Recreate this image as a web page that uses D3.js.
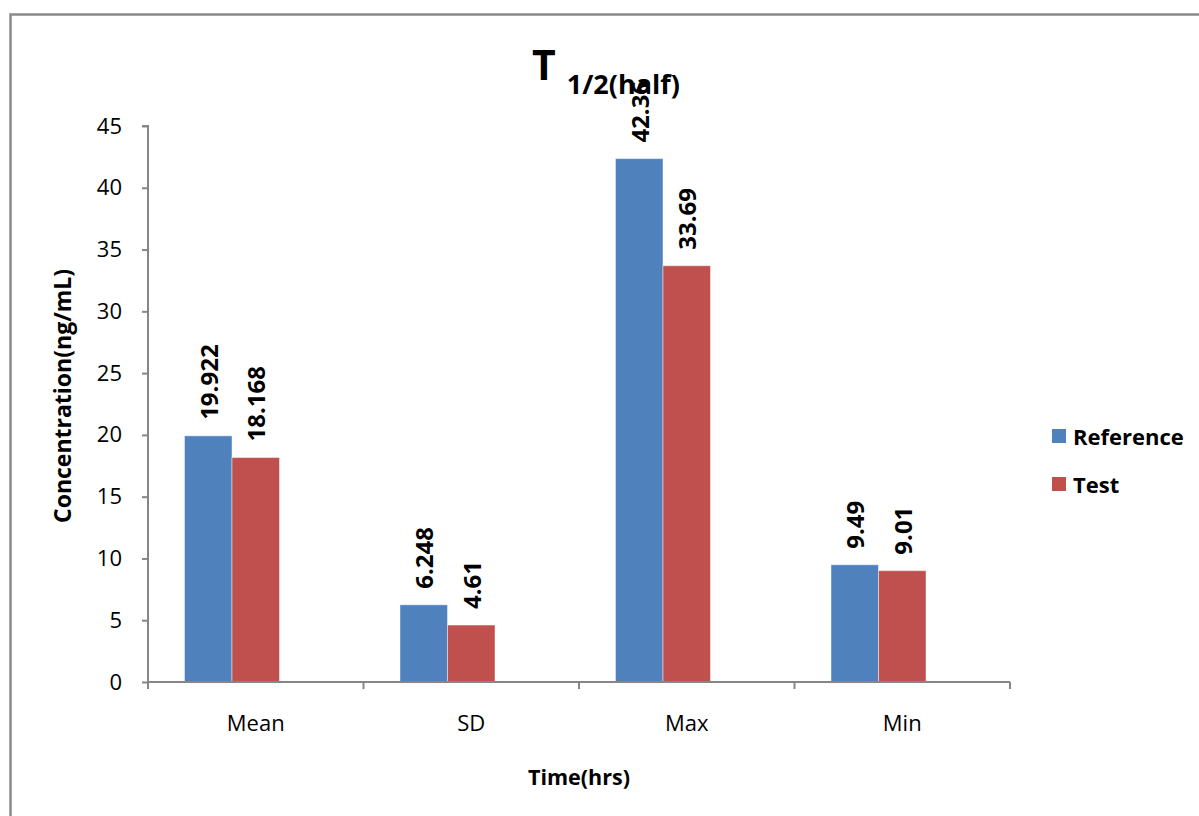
<!DOCTYPE html>
<html>
<head>
<meta charset="utf-8">
<script src="https://cdn.jsdelivr.net/npm/d3@7"></script>
<style>
  body { margin: 0; background: #fff; }
  svg { display: block; font-family: "Open Sans", sans-serif; }
</style>
</head>
<body>
<svg id="chart" width="1199" height="816"></svg>
<script>
const categories = ["Mean", "SD", "Max", "Min"];
const seriesNames = ["Reference", "Test"];
const referenceValues = [19.922, 6.248, 42.36, 9.49];
const testValues = [18.168, 4.61, 33.69, 9.01];
const valueLabels = [["19.922", "6.248", "42.36", "9.49"], ["18.168", "4.61", "33.69", "9.01"]];
const yTicks = [0, 5, 10, 15, 20, 25, 30, 35, 40, 45];

const colors = { Reference: "#4f81bd", Test: "#c0504d" };
const axisColor = "#868686";
const margin = { top: 126, right: 189, bottom: 134, left: 148 };
const width = 1199, height = 816;

const svg = d3.select("#chart");

// outer chart border (only top and left visible in the crop)
svg.append("rect")
    .attr("x", 10.5).attr("y", 14.5)
    .attr("width", 1400).attr("height", 1000)
    .attr("fill", "none").attr("stroke", "#8a8a8a").attr("stroke-width", 2.5);

const x0 = d3.scaleBand().domain(categories)
    .range([margin.left, width - margin.right]).paddingInner(0).paddingOuter(0);
// third empty slot, like the source chart, so the pair sits left of centre
const x1 = d3.scaleBand().domain([...seriesNames, ""])
    .range([0, x0.bandwidth()]).paddingOuter(0.768).paddingInner(0);
const y = d3.scaleLinear().domain([0, 45]).range([height - margin.bottom, margin.top]);

const rows = categories.map((c, i) => ({
    cat: c,
    vals: [
        { name: "Reference", v: referenceValues[i], label: valueLabels[0][i] },
        { name: "Test", v: testValues[i], label: valueLabels[1][i] }
    ]
}));

const groups = svg.append("g").selectAll("g").data(rows).join("g")
    .attr("transform", d => `translate(${x0(d.cat)},0)`);

groups.selectAll("rect").data(d => d.vals).join("rect")
    .attr("x", d => x1(d.name))
    .attr("y", d => y(d.v))
    .attr("width", x1.bandwidth())
    .attr("height", d => y(0) - y(d.v))
    .attr("fill", d => colors[d.name])
    .attr("stroke", "rgba(255,255,255,0.45)")
    .attr("stroke-width", 1);

groups.selectAll("text").data(d => d.vals).join("text")
    .attr("transform", d => `translate(${x1(d.name) + x1.bandwidth() / 2},${y(d.v) - 16}) rotate(-90)`)
    .attr("dominant-baseline", "central")
    .attr("text-anchor", "start")
    .attr("font-weight", "bold")
    .attr("font-size", 24)
    .attr("fill", "#000")
    .text(d => d.label);

// y axis
const yAxis = svg.append("g")
    .attr("transform", `translate(${margin.left},0)`)
    .call(d3.axisLeft(y).tickValues(yTicks).tickSize(6).tickPadding(20));
yAxis.selectAll("line, path").attr("stroke", axisColor).attr("stroke-width", 2);
yAxis.select(".domain").attr("d", `M-6,${y(45)}H0V${y(0)}`);
yAxis.selectAll("text").attr("font-size", 22).attr("fill", "#000")
    .attr("font-family", "Open Sans, sans-serif");

// x axis: labels at band centres, ticks at band boundaries
const xAxis = svg.append("g")
    .attr("transform", `translate(0,${y(0)})`)
    .call(d3.axisBottom(x0).tickSize(0).tickPadding(33));
xAxis.select(".domain").attr("stroke", axisColor).attr("stroke-width", 2)
    .attr("d", `M${margin.left},0H${width - margin.right}`);
xAxis.selectAll("text").attr("font-size", 22).attr("fill", "#000")
    .attr("font-family", "Open Sans, sans-serif");
const bounds = [...categories.map(c => x0(c)), x0.range()[1]];
xAxis.selectAll(".bound").data(bounds).join("line")
    .attr("class", "bound")
    .attr("x1", d => d).attr("x2", d => d)
    .attr("y1", 0).attr("y2", 7)
    .attr("stroke", axisColor).attr("stroke-width", 2);

// titles
const title = svg.append("text")
    .attr("x", 532).attr("y", 80)
    .attr("font-weight", "bold").attr("fill", "#000");
title.append("tspan").attr("font-size", 41).text("T");
title.append("tspan").attr("font-size", 27).attr("dx", 11).attr("dy", 14).text("1/2(half)");

svg.append("text")
    .attr("transform", `translate(62,${(y(0) + y(45)) / 2 - 8}) rotate(-90)`)
    .attr("text-anchor", "middle").attr("dominant-baseline", "central")
    .attr("font-weight", "bold").attr("font-size", 23)
    .text("Concentration(ng/mL)");

svg.append("text")
    .attr("x", (margin.left + width - margin.right) / 2).attr("y", 776)
    .attr("text-anchor", "middle").attr("dominant-baseline", "central")
    .attr("font-weight", "bold").attr("font-size", 21.5)
    .text("Time(hrs)");

// legend
const legend = svg.append("g").selectAll("g").data(seriesNames).join("g")
    .attr("transform", (d, i) => `translate(1052,${436 + i * 48})`);
legend.append("rect")
    .attr("x", 0).attr("y", -7).attr("width", 14).attr("height", 14)
    .attr("fill", d => colors[d]);
legend.append("text")
    .attr("x", 21).attr("y", 0)
    .attr("dominant-baseline", "central")
    .attr("font-weight", "bold").attr("font-size", 22)
    .text(d => d);
</script>
</body>
</html>
